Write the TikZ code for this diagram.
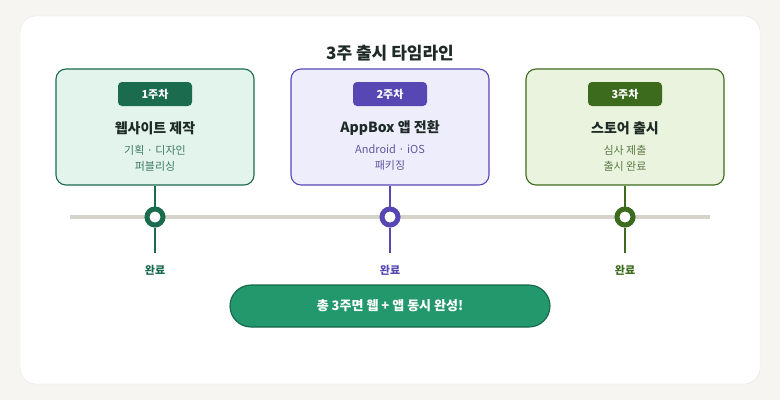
\documentclass[tikz,border=0pt]{standalone}
\usepackage{fontspec}
\setmainfont{Noto Sans CJK KR}
\usetikzlibrary{positioning}

\definecolor{fond}{HTML}{F6F5F2}
\definecolor{cadre}{HTML}{E6E4DE}
\definecolor{axe}{HTML}{D6D3CA}
\definecolor{encre}{HTML}{1E2A25}
\definecolor{vertA}{HTML}{1B6B4F}
\definecolor{vertAf}{HTML}{E3F4EC}
\definecolor{vertAt}{HTML}{3F7A66}
\definecolor{violet}{HTML}{5747B5}
\definecolor{violetf}{HTML}{EEEDFC}
\definecolor{violett}{HTML}{5F58A0}
\definecolor{olive}{HTML}{3D6B1D}
\definecolor{olivef}{HTML}{EAF3DE}
\definecolor{olivet}{HTML}{5A7A44}
\definecolor{pilule}{HTML}{22986C}
\definecolor{pilulebord}{HTML}{17664A}

\tikzset{
  etape/.style={draw=#1, line width=1.1pt, rounded corners=10pt,
    minimum width=198pt, minimum height=116pt},
  badge/.style={fill=#1, rounded corners=4pt, minimum width=74pt,
    minimum height=24pt, text=white, font=\fontsize{11}{13}\selectfont\bfseries},
  titre/.style={text=encre, font=\fontsize{14}{16}\selectfont\bfseries},
  detail/.style={align=center, font=\fontsize{11}{16}\selectfont},
  jalon/.style={circle, draw=#1, line width=5pt, fill=white, minimum size=16pt, inner sep=0pt},
  fini/.style={text=#1, font=\fontsize{11}{13}\selectfont\bfseries}
}

\begin{document}
\begin{tikzpicture}[x=1pt,y=-1pt]
  % Fond et carte
  \fill [fond] (0,0) rectangle (780,400);
  \draw [cadre, fill=white, rounded corners=16pt] (20,16) rectangle (760,384);
  \node [font=\fontsize{17}{20}\selectfont\bfseries, text=encre] (titreG) at (390,53) {3주 출시 타임라인};

  % Axe du temps
  \coordinate (axeG) at (70,217);
  \coordinate (axeD) at (710,217);
  \draw [axe, line width=3.5pt] (axeG) -- (axeD);

  % Les trois semaines
  \foreach \i/\x/\c/\sem/\nom/\ligneA/\ligneB in {
      1/155/vertA/1주차/웹사이트 제작/기획 · 디자인/퍼블리싱,
      2/390/violet/2주차/AppBox 앱 전환/Android · iOS/패키징,
      3/625/olive/3주차/스토어 출시/심사 제출/출시 완료}
  {
    \node [etape=\c, fill=\c f] (boite\i) at (\x,127) {};
    \node [badge=\c] (sem\i) at (\x,94) {\sem};
    \node [titre] (nom\i) at (\x,128) {\nom};
    \node [detail, text=\c t] (det\i) at (\x,158) {\ligneA\\\ligneB};
    \node [jalon=\c] (pt\i) at (\x,217) {};
    \coordinate (bas\i) at (\x,253);
    \draw [\c, line width=1.6pt] (boite\i.south) -- (pt\i.north);
    \draw [\c, line width=1.6pt] (pt\i.south) -- (bas\i);
    \node [fini=\c] (ok\i) at (\x,270) {완료};
  }

  % Bilan
  \node [fill=pilule, draw=pilulebord, line width=1.1pt, rounded corners=21pt,
    minimum width=320pt, minimum height=42pt, text=white,
    font=\fontsize{13}{15}\selectfont\bfseries] (bilan) at (390,306) {총 3주면 웹 + 앱 동시 완성!};
\end{tikzpicture}
\end{document}
